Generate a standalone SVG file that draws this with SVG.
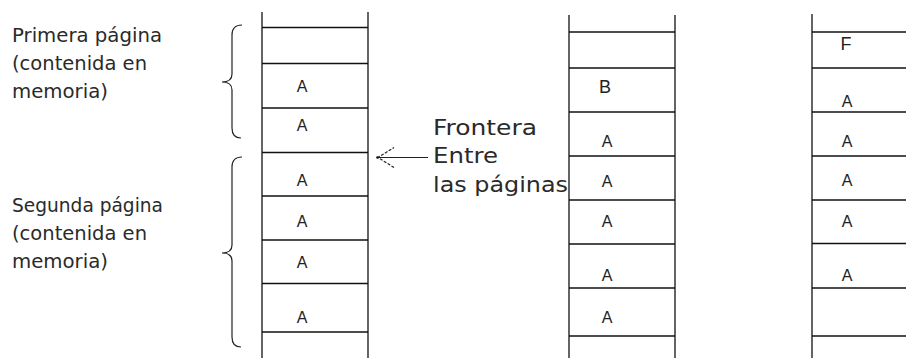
<svg xmlns="http://www.w3.org/2000/svg" width="906" height="358" viewBox="0 0 906 358">
<defs>
<style>
.ln{stroke:#111;stroke-width:1.3;fill:none}
.br{stroke:#222;stroke-width:1.2;fill:none}
.lbl{font-family:"DejaVu Sans","Liberation Sans",sans-serif;font-size:19px;fill:#2a2a2a}
.cell{font-family:"Liberation Sans",Arial,sans-serif;font-size:16px;fill:#222;text-anchor:middle}
.big{font-size:18px}
.lt{font-family:"DejaVu Sans","Liberation Sans",sans-serif;font-size:22px;fill:#2a2a2a}
</style>
<marker id="openArrow" markerWidth="20" markerHeight="24" refX="17" refY="11" orient="auto" markerUnits="userSpaceOnUse">
<path d="M1,1 L17,11 L1,21" fill="none" stroke="#222" stroke-width="1.2" stroke-dasharray="3 1.5"/>
</marker>
</defs>
<rect width="906" height="358" fill="#fff"/>

<g id="label-primera">
<text class="lbl" x="12" y="42" textLength="150" lengthAdjust="spacingAndGlyphs">Primera página</text>
<text class="lbl" x="12" y="70" textLength="135" lengthAdjust="spacingAndGlyphs">(contenida en</text>
<text class="lbl" x="12" y="98" textLength="96" lengthAdjust="spacingAndGlyphs">memoria)</text>
</g>
<g id="label-segunda">
<text class="lbl" x="12" y="212" textLength="151" lengthAdjust="spacingAndGlyphs">Segunda página</text>
<text class="lbl" x="12" y="240" textLength="135" lengthAdjust="spacingAndGlyphs">(contenida en</text>
<text class="lbl" x="12" y="268" textLength="96" lengthAdjust="spacingAndGlyphs">memoria)</text>
</g>

<g id="brace-primera">
<path class="br" d="M242,25 Q232,25 232,35 L232,74 Q232,82 222,82 Q232,82 232,90 L232,128 Q232,138 241,138"/>
</g>
<g id="brace-segunda">
<path class="br" d="M242,157 Q232,157 232,167 L232,245 Q232,253 222,253 Q232,253 232,261 L232,337 Q232,347 241,347"/>
</g>

<g id="column-1">
<line class="ln" x1="262" y1="12" x2="262" y2="358"/>
<line class="ln" x1="368" y1="12" x2="368" y2="358"/>
<line class="ln" x1="262" y1="27.5" x2="368" y2="27.5"/>
<line class="ln" x1="262" y1="63.5" x2="368" y2="63.5"/>
<line class="ln" x1="262" y1="108" x2="368" y2="108"/>
<line class="ln" x1="262" y1="152.5" x2="368" y2="152.5"/>
<line class="ln" x1="262" y1="196" x2="368" y2="196"/>
<line class="ln" x1="262" y1="240" x2="368" y2="240"/>
<line class="ln" x1="262" y1="283.5" x2="368" y2="283.5"/>
<line class="ln" x1="262" y1="332" x2="368" y2="332"/>
<text class="cell" x="302" y="92">A</text>
<text class="cell" x="302" y="131">A</text>
<text class="cell" x="302" y="186">A</text>
<text class="cell" x="302" y="227">A</text>
<text class="cell" x="302" y="268">A</text>
<text class="cell" x="302" y="323">A</text>
</g>

<g id="column-2">
<line class="ln" x1="569" y1="15" x2="569" y2="358"/>
<line class="ln" x1="675" y1="15" x2="675" y2="358"/>
<line class="ln" x1="569" y1="32" x2="675" y2="32"/>
<line class="ln" x1="569" y1="68" x2="675" y2="68"/>
<line class="ln" x1="569" y1="112" x2="675" y2="112"/>
<line class="ln" x1="569" y1="156" x2="675" y2="156"/>
<line class="ln" x1="569" y1="200" x2="675" y2="200"/>
<line class="ln" x1="569" y1="244" x2="675" y2="244"/>
<line class="ln" x1="569" y1="288" x2="675" y2="288"/>
<line class="ln" x1="569" y1="336" x2="675" y2="336"/>
<text class="cell big" x="605" y="93">B</text>
<text class="cell" x="607" y="147">A</text>
<text class="cell" x="607" y="187">A</text>
<text class="cell" x="607" y="227">A</text>
<text class="cell" x="607" y="281">A</text>
<text class="cell" x="607" y="323">A</text>
</g>

<g id="column-3">
<line class="ln" x1="812" y1="14" x2="812" y2="358"/>
<line class="ln" x1="812" y1="32" x2="906" y2="32"/>
<line class="ln" x1="812" y1="68" x2="906" y2="68"/>
<line class="ln" x1="812" y1="112" x2="906" y2="112"/>
<line class="ln" x1="812" y1="156" x2="906" y2="156"/>
<line class="ln" x1="812" y1="200" x2="906" y2="200"/>
<line class="ln" x1="812" y1="243.5" x2="906" y2="243.5"/>
<line class="ln" x1="812" y1="288" x2="906" y2="288"/>
<line class="ln" x1="812" y1="336" x2="906" y2="336"/>
<text class="cell big" x="846" y="50">F</text>
<text class="cell" x="847" y="107">A</text>
<text class="cell" x="847" y="147">A</text>
<text class="cell" x="847" y="186">A</text>
<text class="cell" x="847" y="227">A</text>
<text class="cell" x="847" y="281">A</text>
</g>

<g id="label-frontera">
<text class="lt" x="433" y="135" textLength="104" lengthAdjust="spacingAndGlyphs">Frontera</text>
<text class="lt" x="433" y="163" textLength="65" lengthAdjust="spacingAndGlyphs">Entre</text>
<text class="lt" x="433" y="192" textLength="135" lengthAdjust="spacingAndGlyphs">las páginas</text>
</g>

<g id="connectors">
<line x1="428" y1="157.5" x2="378" y2="157.5" stroke="#222" stroke-width="1.2" marker-end="url(#openArrow)"/>
<circle cx="377.5" cy="157.5" r="1.3" fill="#111"/>
</g>
</svg>
